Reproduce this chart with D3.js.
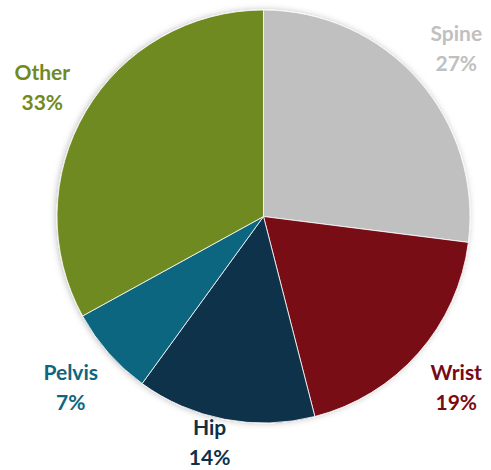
<!DOCTYPE html>
<html>
<head>
<meta charset="utf-8">
<script src="https://cdn.jsdelivr.net/npm/d3@7"></script>
<style>
  body { margin: 0; background: #fff; }
  text { font-family: Lato, "Open Sans", sans-serif; font-weight: bold; }
</style>
</head>
<body>
<script>
const categories = ["Spine", "Wrist", "Hip", "Pelvis", "Other"];
const values = [27, 19, 14, 7, 33];
const colors = ["#c0c0c0", "#790a15", "#0e3149", "#0e6680", "#6f8a23"];

const width = 491, height = 470;
const cx = 263.5, cy = 216.5, radius = 206.5;
// label centres sit on a ring outside the pie; Hip is pulled in so it fits
const labelRadius = 257;
const labelTweak = {Hip: {r: 229, dx: -11}};

const data = categories.map((c, i) => ({cat: c, value: values[i], color: colors[i]}));

const svg = d3.select("body").append("svg")
  .attr("width", width)
  .attr("height", height);

const defs = svg.append("defs");
const filt = defs.append("filter").attr("id", "shadow")
  .attr("x", "-10%").attr("y", "-10%").attr("width", "120%").attr("height", "120%");
filt.append("feDropShadow")
  .attr("dx", -1).attr("dy", 0).attr("stdDeviation", 3)
  .attr("flood-color", "#000").attr("flood-opacity", 0.25);

const pie = d3.pie().sort(null).value(d => d.value);
const arcs = pie(data);
const arc = d3.arc().innerRadius(0).outerRadius(radius);

const g = svg.append("g").attr("transform", `translate(${cx},${cy})`);

g.append("g").attr("filter", "url(#shadow)")
  .selectAll("path")
  .data(arcs)
  .enter()
  .append("path")
    .attr("d", arc)
    .attr("fill", d => d.data.color)
    .attr("stroke", "#fff")
    .attr("stroke-width", 0.8);

const labels = g.selectAll(".label")
  .data(arcs)
  .enter()
  .append("text")
    .attr("class", "label")
    .attr("text-anchor", "middle")
    .attr("fill", d => d.data.color)
    .style("font-size", "21px")
    .attr("transform", d => {
      const t = labelTweak[d.data.cat] || {};
      const r = t.r || labelRadius;
      const a = (d.startAngle + d.endAngle) / 2;
      return `translate(${r * Math.sin(a) + (t.dx || 0)},${-r * Math.cos(a)})`;
    });

labels.append("tspan")
  .attr("x", 0)
  .attr("y", -6)
  .text(d => d.data.cat);

labels.append("tspan")
  .attr("x", 0)
  .attr("y", 24)
  .text(d => d.data.value + "%");
</script>
</body>
</html>
